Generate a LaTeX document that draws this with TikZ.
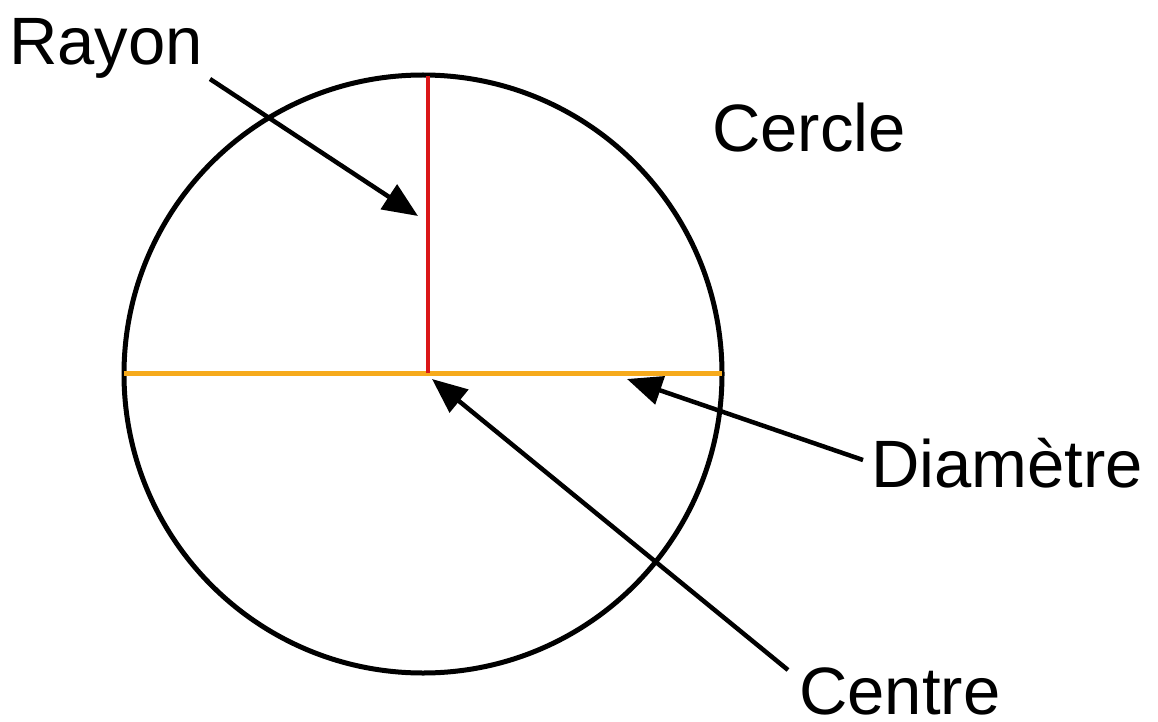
\documentclass[tikz,border=0pt]{standalone}
\usepackage{fontspec}
\setmainfont{Liberation Sans}
\usetikzlibrary{arrows.meta}
\definecolor{radred}{RGB}{218,22,24}
\definecolor{diamorange}{RGB}{246,170,28}
\begin{document}
\begin{tikzpicture}[x=1pt,y=-1pt,
  lbl/.style={anchor=base west,inner sep=0pt,font=\fontsize{67}{80}\selectfont},
  pointer/.style={line width=4.5pt,-{Triangle[length=35pt,width=29pt]}},
  outline/.style={line width=5pt,draw=black}]
\useasboundingbox (0,0) rectangle (1158,722);
\node[circle,outline,minimum size=598pt,inner sep=0pt] (circ) at (423,374) {};
\coordinate (top) at (428,76);
\coordinate (ctr) at (428,373);
\coordinate (dl) at (124,373);
\coordinate (dr) at (722,373);
\draw[line width=5pt,diamorange] (dl) -- (dr);
\draw[line width=4pt,radred] (top) -- (ctr);
\node[lbl] (rayon) at (9,65) {Rayon};
\node[lbl] (cercle) at (712,152) {Cercle};
\node[lbl] (diam) at (871,487) {Diamètre};
\node[lbl] (centre) at (799,714) {Centre};
\coordinate (rs) at (210,79);
\coordinate (rt) at (418,216);
\coordinate (ds) at (863,460);
\coordinate (dt) at (627,379);
\coordinate (cs) at (788,670);
\coordinate (ct) at (432,379);
\draw[pointer] (rs) -- (rt);
\draw[pointer] (ds) -- (dt);
\draw[pointer] (cs) -- (ct);
\end{tikzpicture}
\end{document}
